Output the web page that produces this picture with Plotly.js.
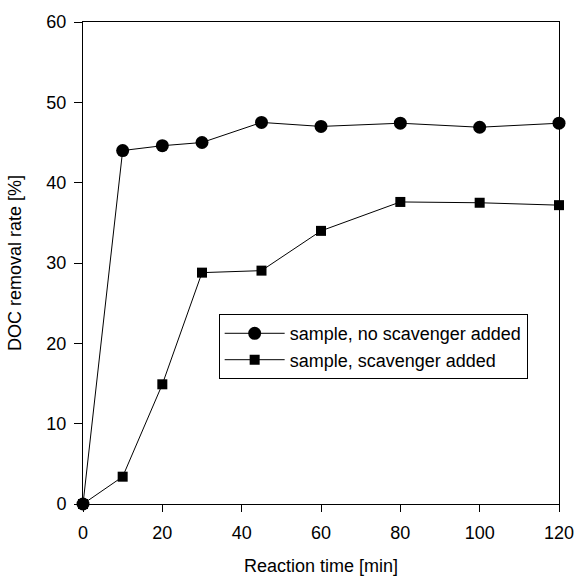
<!DOCTYPE html>
<html>
<head>
<meta charset="utf-8">
<script src="https://cdn.plot.ly/plotly-3.0.1.min.js"></script>
<style>html,body{margin:0;padding:0;background:#fff;}</style>
</head>
<body>
<div id="chart" style="width:577px;height:576px;"></div>
<script>
const timeMin = [0, 10, 20, 30, 45, 60, 80, 100, 120];
const noScavenger = [0, 44.0, 44.6, 45.0, 47.5, 47.0, 47.4, 46.9, 47.4];
const withScavenger = [0, 3.4, 14.9, 28.8, 29.05, 34.0, 37.6, 37.5, 37.2];
const seriesNames = ["sample, no scavenger added", "sample, scavenger added"];
const xTicks = [0, 20, 40, 60, 80, 100, 120];
const yTicks = [0, 10, 20, 30, 40, 50, 60];

const font = "Liberation Sans, Arial, sans-serif";

const traces = [
  {
    x: timeMin, y: noScavenger, name: seriesNames[0],
    mode: "lines+markers", type: "scatter", cliponaxis: false,
    line: {color: "#000", width: 1},
    marker: {symbol: "circle", size: 13, color: "#000"}
  },
  {
    x: timeMin, y: withScavenger, name: seriesNames[1],
    mode: "lines+markers", type: "scatter", cliponaxis: false,
    line: {color: "#000", width: 1},
    marker: {symbol: "square", size: 10, color: "#000"}
  }
];

const layout = {
  width: 577, height: 576,
  margin: {l: 83, r: 18, t: 22, b: 72},
  paper_bgcolor: "#fff", plot_bgcolor: "#fff",
  font: {family: font, size: 18, color: "#000"},
  showlegend: true,
  legend: {
    x: 0.285, xanchor: "left", y: 0.394, yanchor: "top",
    bordercolor: "#000", borderwidth: 1, bgcolor: "#fff",
    font: {family: font, size: 18, color: "#000"},
    itemwidth: 60,
    tracegroupgap: 0
  },
  xaxis: {
    range: [0, 120], tickvals: xTicks, ticktext: xTicks.map(String),
    showgrid: false, zeroline: false,
    showline: true, mirror: true, linecolor: "#000", linewidth: 1,
    ticks: "outside", ticklen: 7, tickwidth: 1, tickcolor: "#000",
    ticklabelstandoff: 5,
    tickfont: {family: font, size: 18, color: "#000"},
    title: {text: "Reaction time [min]", font: {family: font, size: 18, color: "#000"}, standoff: 24}
  },
  yaxis: {
    range: [0, 60], tickvals: yTicks, ticktext: yTicks.map(String),
    showgrid: false, zeroline: false,
    showline: true, mirror: true, linecolor: "#000", linewidth: 1,
    ticks: "outside", ticklen: 8, tickwidth: 1, tickcolor: "#000",
    ticklabelstandoff: 4,
    tickfont: {family: font, size: 18, color: "#000"},
    title: {text: "DOC removal rate [%]", font: {family: font, size: 18, color: "#000"}, standoff: 20}
  }
};

Plotly.newPlot("chart", traces, layout, {displayModeBar: false, staticPlot: true});
</script>
</body>
</html>
